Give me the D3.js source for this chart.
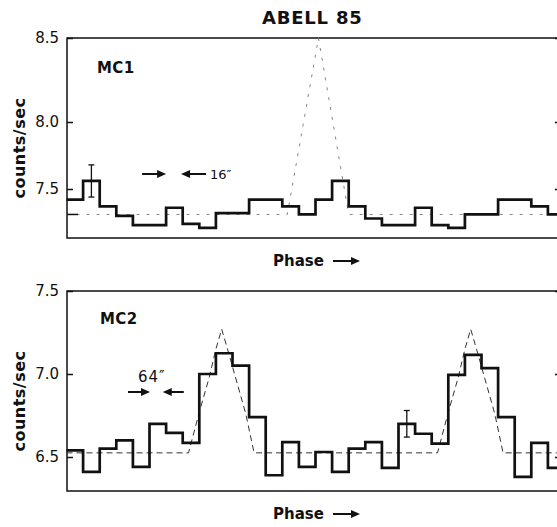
<!DOCTYPE html>
<html>
<head>
<meta charset="utf-8">
<script src="https://cdnjs.cloudflare.com/ajax/libs/d3/7.8.5/d3.min.js"></script>
<style>
  body { margin: 0; background: #fff; }
  svg { display: block; }
  text { font-family: "DejaVu Sans", sans-serif; fill: #111; }
</style>
</head>
<body>
<svg id="fig" width="557" height="527"></svg>
<script>
// phase bins, two cycles of the folded scan (15 bins each)
var n_bins = 30;

var mc1_counts = [7.42, 7.56, 7.37, 7.30, 7.23, 7.23, 7.36, 7.24, 7.21, 7.32,
		  7.32, 7.42, 7.42, 7.37, 7.31, 7.42, 7.56, 7.37, 7.28, 7.23,
		  7.23, 7.36, 7.23, 7.21, 7.31, 7.31, 7.42, 7.42, 7.37, 7.31];

var mc2_counts = [6.54, 6.41, 6.55, 6.60, 6.44, 6.70, 6.645, 6.585, 7.00, 7.125,
		  7.05, 6.74, 6.39, 6.59, 6.44, 6.53, 6.41, 6.55, 6.59, 6.435,
		  6.70, 6.64, 6.58, 6.995, 7.115, 7.035, 6.74, 6.38, 6.585, 6.435];

// dashed model curves (phase in bins, counts/sec)
var mc1_model_phase  = [0, 13.3, 15.18, 17.0, 30];
var mc1_model_counts = [7.31, 7.31, 8.5, 7.31, 7.31];

var mc2_model_phase  = [0, 7.35, 8.0, 8.6, 9.0, 9.35, 9.7, 10.8, 11.3,
			22.35, 23.0, 23.6, 24.0, 24.35, 24.7, 25.8, 26.3, 30];
var mc2_model_counts = [6.525, 6.525, 6.77, 6.98, 7.15, 7.27, 7.15, 6.76, 6.525,
			6.525, 6.77, 6.98, 7.15, 7.27, 7.15, 6.76, 6.525, 6.525];

var mc1_ticks = [8.5, 8.0, 7.5];
var mc2_ticks = [7.5, 7.0, 6.5];

// one error bar per panel: [bin, +/- counts]
var mc1_error = [1, 0.12];
var mc2_error = [20, 0.08];

var fig = function() {
    var f = {
	svg: d3.select("#fig"),
	left: 67,
	right: 564,
	x: d3.scaleLinear().domain([0, n_bins]).range([66.5, 564.5]),

	draw_frame: function(top, bottom) {
	    f.svg.append("rect")
		.attr("x", f.left).attr("y", top)
		.attr("width", f.right - f.left).attr("height", bottom - top)
		.attr("fill", "none").attr("stroke", "#111").attr("stroke-width", 1.5);
	},
	draw_axis: function(y, ticks) {
	    var g = f.svg.append("g")
		.attr("transform", "translate(" + f.left + ",0)")
		.call(d3.axisLeft(y).tickValues(ticks).tickSize(-6).tickPadding(8)
		      .tickFormat(d3.format(".1f")));
	    g.select(".domain").remove();
	    g.selectAll("line").attr("stroke", "#111").attr("stroke-width", 1.5);
	    g.selectAll("text").attr("font-size", 15).attr("fill", "#111")
		.attr("font-family", "DejaVu Sans");
	    var r = f.svg.append("g")
		.attr("transform", "translate(" + f.right + ",0)")
		.call(d3.axisRight(y).tickValues(ticks).tickSize(-9).tickFormat(""));
	    r.select(".domain").remove();
	    r.selectAll("line").attr("stroke", "#111").attr("stroke-width", 1.5);
	},
	draw_steps: function(y, counts) {
	    var pts = counts.map(function(v, i) { return [i, v]; });
	    pts.push([n_bins, counts[counts.length - 1]]);
	    var line = d3.line()
		.x(function(d) { return f.x(d[0]); })
		.y(function(d) { return y(d[1]); })
		.curve(d3.curveStepAfter);
	    f.svg.append("path")
		.attr("d", line(pts))
		.attr("fill", "none").attr("stroke", "#111")
		.attr("stroke-width", 2.7).attr("stroke-linejoin", "miter");
	},
	draw_model: function(y, phase, counts, faint) {
	    var line = d3.line()
		.x(function(d, i) { return f.x(phase[i]); })
		.y(function(d) { return y(d); });
	    f.svg.append("path")
		.attr("d", line(counts))
		.attr("fill", "none")
		.attr("stroke", faint ? "#777" : "#333")
		.attr("stroke-width", faint ? 0.9 : 1)
		.attr("stroke-dasharray", faint ? "3,7" : "6,4");
	},
	draw_error: function(y, counts, err) {
	    var cx = f.x(err[0] + 0.5);
	    var v = counts[err[0]];
	    var g = f.svg.append("g").attr("stroke", "#111").attr("stroke-width", 1.3);
	    g.append("line").attr("x1", cx).attr("x2", cx)
		.attr("y1", y(v + err[1])).attr("y2", y(v - err[1]));
	    [v + err[1], v - err[1]].forEach(function(e) {
		g.append("line").attr("x1", cx - 3).attr("x2", cx + 3)
		    .attr("y1", y(e)).attr("y2", y(e));
	    });
	},
	// arrow with filled head; dir 1 points right, -1 points left
	arrow: function(tip, yy, len, dir) {
	    f.svg.append("line")
		.attr("x1", tip - dir * len).attr("x2", tip - dir * 6)
		.attr("y1", yy).attr("y2", yy)
		.attr("stroke", "#111").attr("stroke-width", 2);
	    f.svg.append("path")
		.attr("d", "M " + tip + " " + yy + " L " + (tip - dir * 9) + " " + (yy - 4) +
		      " L " + (tip - dir * 9) + " " + (yy + 4) + " Z")
		.attr("fill", "#111");
	},
	label: function(txt, x, y, size, opts) {
	    opts = opts || {};
	    var t = f.svg.append("text")
		.attr("x", x).attr("y", y)
		.attr("font-size", size)
		.attr("font-weight", opts.weight || "normal")
		.attr("letter-spacing", opts.spacing || 0)
		.attr("text-anchor", opts.anchor || "start")
		.text(txt);
	    if (opts.rotate) {
		t.attr("x", 0).attr("y", 0)
		    .attr("transform", "translate(" + x + "," + y + ") rotate(-90)");
	    }
	    return t;
	},
	phase_label: function(yy) {
	    f.label("Phase", 273, yy, 15, {weight: "bold"});
	    f.arrow(360, yy - 5, 27, 1);
	},
	draw_panel: function(p) {
	    f.draw_frame(p.top, p.bottom);
	    f.draw_axis(p.y, p.ticks);
	    f.draw_model(p.y, p.model_phase, p.model_counts, p.faint);
	    f.draw_steps(p.y, p.counts);
	    f.draw_error(p.y, p.counts, p.error);
	    f.label(p.name, p.name_x, p.name_y, 15, {weight: "bold", spacing: 0.4});
	    f.label("counts/sec", 25, (p.top + p.bottom) / 2 + 10, 16,
		    {weight: "bold", anchor: "middle", rotate: true, spacing: 0.5});
	    f.phase_label(p.bottom + 28);
	}
    };
    return f;
}();

(function() {
    var top_y = d3.scaleLinear().domain([7.5, 8.0, 8.5]).range([189, 122, 38]);
    var bot_y = d3.scaleLinear().domain([6.5, 7.5]).range([457, 291]);

    fig.label("ABELL 85", 262, 24, 18, {weight: "bold", spacing: 0.8});

    fig.draw_panel({top: 38, bottom: 238, y: top_y, ticks: mc1_ticks,
		    counts: mc1_counts, model_phase: mc1_model_phase,
		    model_counts: mc1_model_counts, error: mc1_error, faint: true,
		    name: "MC1", name_x: 97, name_y: 73});
    // baseline marker on the left axis
    fig.svg.append("line")
	.attr("x1", fig.left).attr("x2", fig.left + 11)
	.attr("y1", top_y(mc1_model_counts[0])).attr("y2", top_y(mc1_model_counts[0]))
	.attr("stroke", "#111").attr("stroke-width", 1.5);

    fig.draw_panel({top: 291, bottom: 491, y: bot_y, ticks: mc2_ticks,
		    counts: mc2_counts, model_phase: mc2_model_phase,
		    model_counts: mc2_model_counts, error: mc2_error, faint: false,
		    name: "MC2", name_x: 100, name_y: 324});

    // resolution markers
    fig.arrow(fig.x(6.0), 174, 24, 1);
    fig.arrow(fig.x(6.9), 174, 25, -1);
    fig.label("16\u2033", 210, 179, 13);
    fig.arrow(fig.x(5.03), 392, 22, 1);
    fig.arrow(fig.x(5.8), 392, 21, -1);
    fig.label("64\u2033", 138, 382, 15, {spacing: 1});
})();
</script>
</body>
</html>
